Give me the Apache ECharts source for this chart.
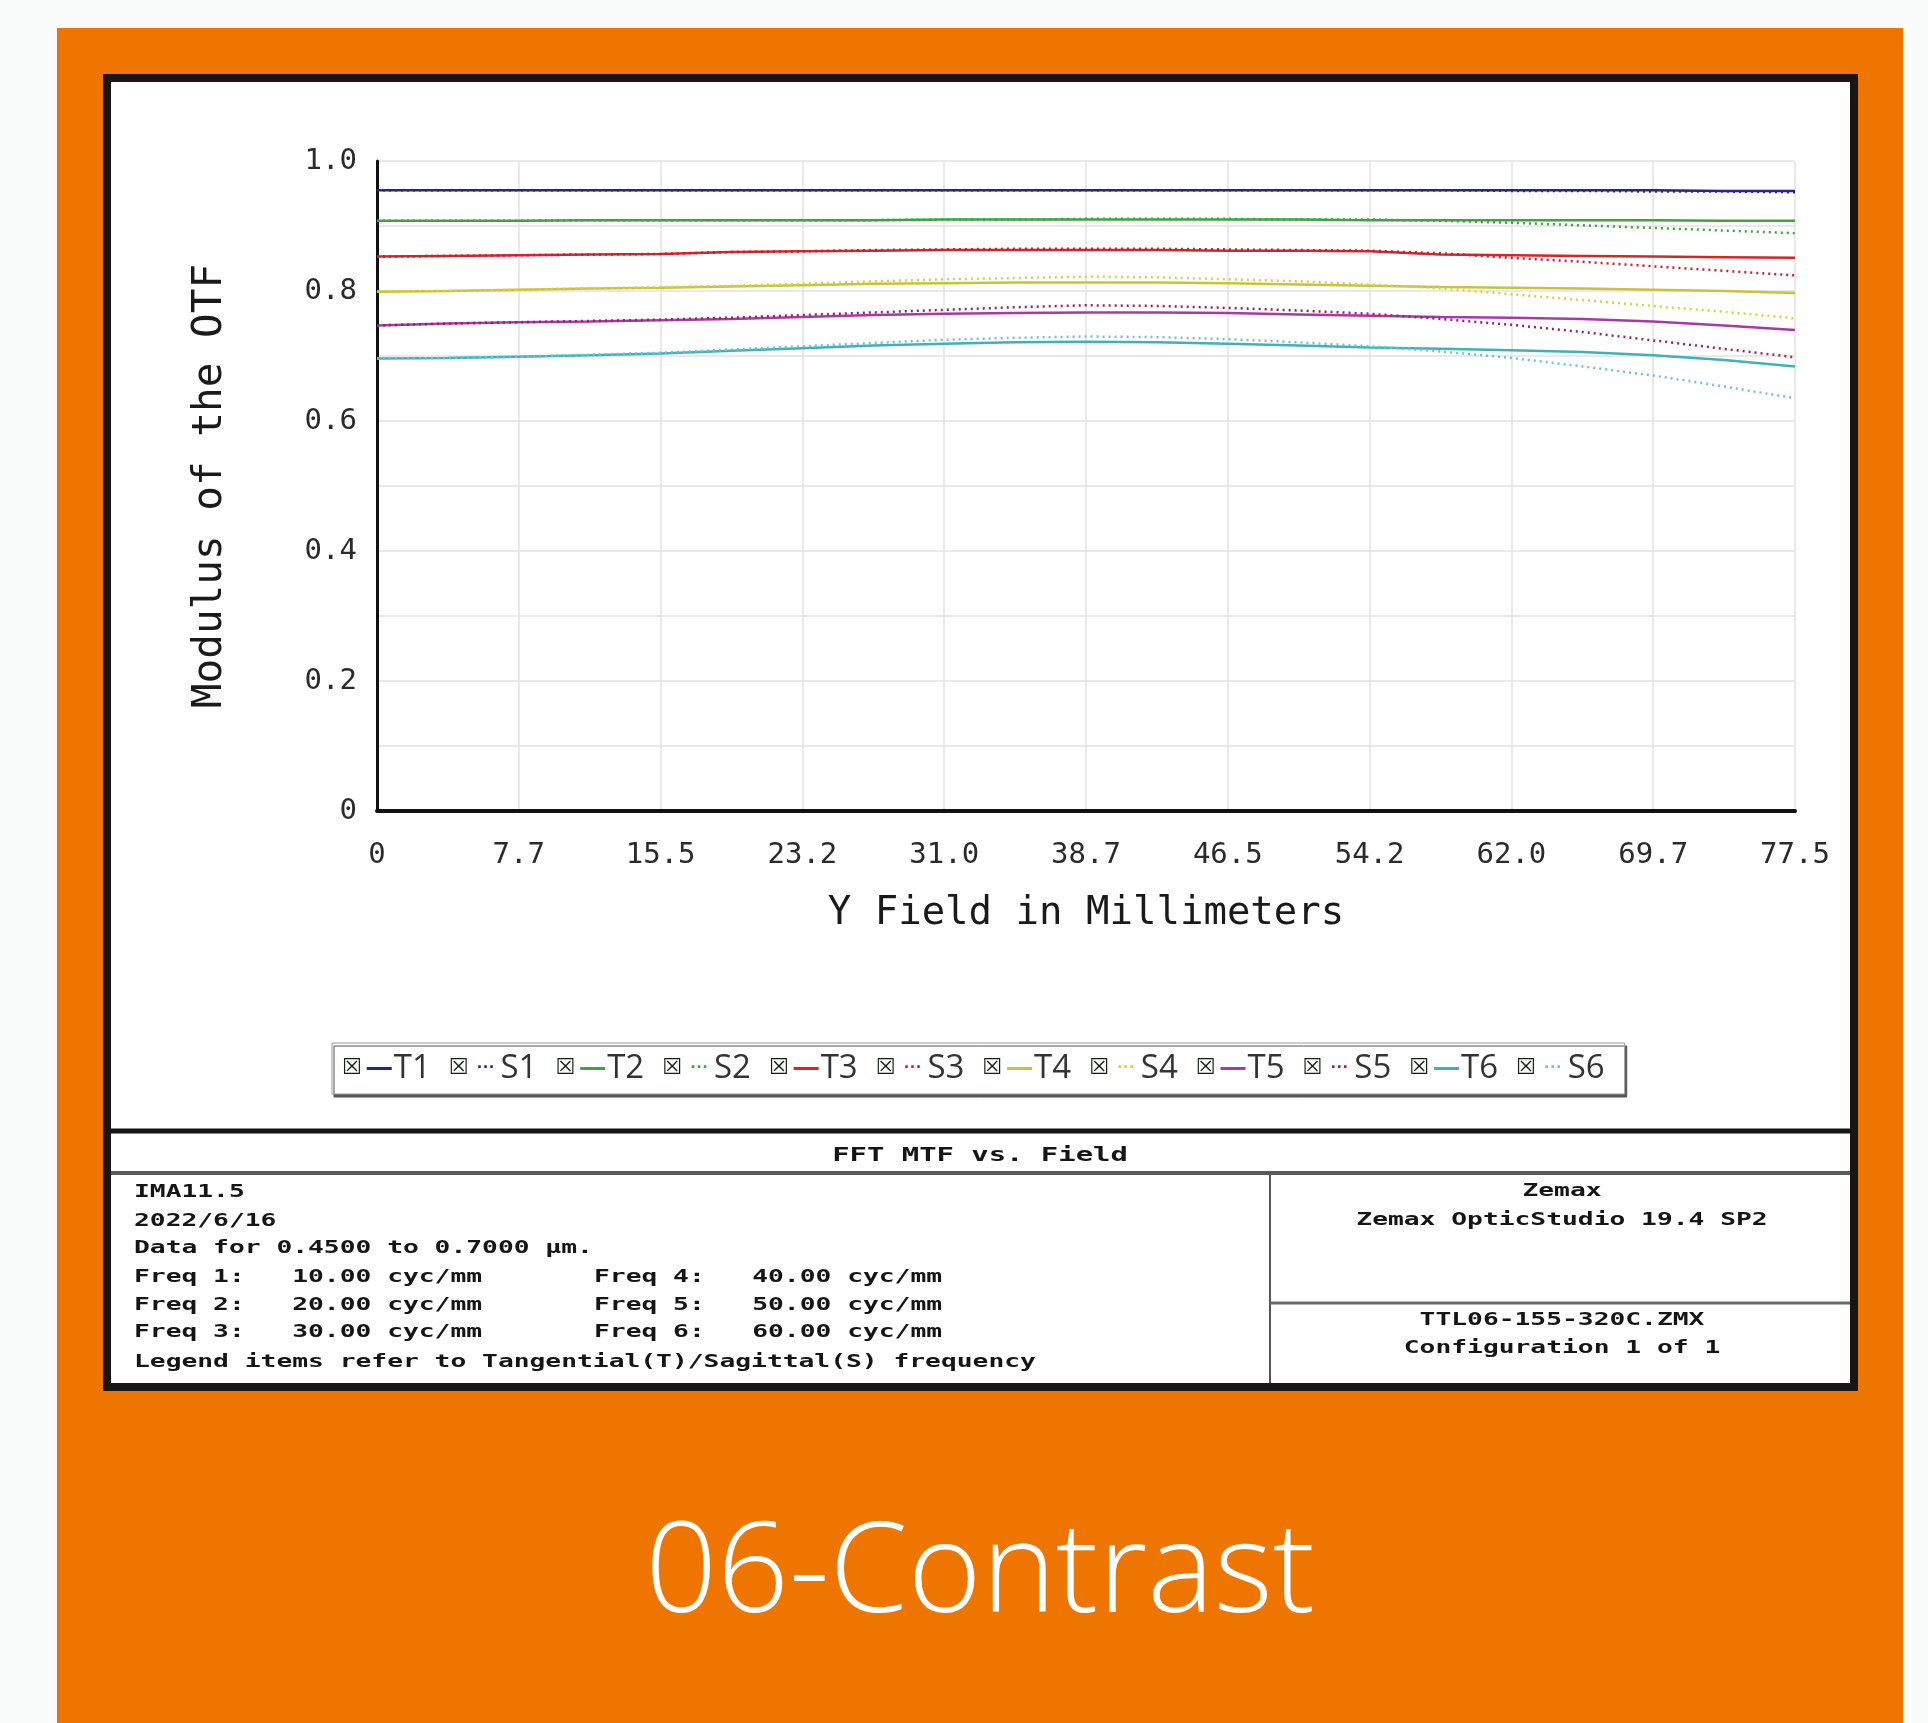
<!DOCTYPE html>
<html>
<head>
<meta charset="utf-8">
<script src="https://cdn.jsdelivr.net/npm/echarts@6/dist/echarts.min.js"></script>
<style>
html,body{margin:0;padding:0;background:#fafcfc;}
#chart{width:1928px;height:1723px;}
</style>
</head>
<body>
<div id="chart"></div>
<script>
// ---- data ----
const fieldMM = [0, 3.875, 7.75, 11.625, 15.5, 19.375, 23.25, 27.125, 31, 34.875, 38.75, 42.625, 46.5, 50.375, 54.25, 58.125, 62, 65.875, 69.75, 73.625, 77.5];
const xTickLabels = ['0', '7.7', '15.5', '23.2', '31.0', '38.7', '46.5', '54.2', '62.0', '69.7', '77.5'];
const yTickLabels = ['0', '0.2', '0.4', '0.6', '0.8', '1.0'];
const seriesNames = ['T1', 'S1', 'T2', 'S2', 'T3', 'S3', 'T4', 'S4', 'T5', 'S5', 'T6', 'S6'];

const T1 = [0.955,0.955,0.955,0.955,0.955,0.955,0.955,0.955,0.955,0.955,0.955,0.955,0.955,0.955,0.955,0.955,0.955,0.955,0.955,0.954,0.954];
const S1 = [0.955,0.955,0.955,0.955,0.955,0.955,0.955,0.955,0.955,0.955,0.955,0.955,0.955,0.955,0.955,0.955,0.954,0.954,0.953,0.953,0.952];
const T2 = [0.908,0.908,0.908,0.909,0.909,0.909,0.909,0.909,0.910,0.910,0.910,0.910,0.910,0.910,0.909,0.909,0.909,0.909,0.909,0.908,0.908];
const S2 = [0.908,0.908,0.908,0.909,0.909,0.909,0.909,0.909,0.910,0.910,0.911,0.911,0.911,0.910,0.910,0.908,0.905,0.901,0.897,0.893,0.889];
const T3 = [0.853,0.854,0.855,0.856,0.857,0.860,0.861,0.862,0.863,0.863,0.863,0.863,0.862,0.862,0.861,0.856,0.855,0.854,0.853,0.852,0.851];
const S3 = [0.853,0.854,0.855,0.856,0.857,0.860,0.861,0.863,0.864,0.865,0.865,0.865,0.864,0.863,0.862,0.858,0.851,0.845,0.838,0.831,0.824];
const T4 = [0.799,0.800,0.802,0.804,0.805,0.807,0.809,0.811,0.812,0.813,0.813,0.813,0.812,0.810,0.808,0.806,0.805,0.804,0.802,0.800,0.797];
const S4 = [0.799,0.800,0.802,0.804,0.806,0.808,0.811,0.815,0.818,0.820,0.822,0.821,0.818,0.815,0.810,0.804,0.795,0.786,0.777,0.768,0.758];
const T5 = [0.747,0.750,0.752,0.753,0.755,0.757,0.760,0.763,0.765,0.766,0.767,0.767,0.766,0.764,0.762,0.760,0.759,0.757,0.753,0.747,0.740];
const S5 = [0.747,0.750,0.752,0.754,0.756,0.759,0.763,0.767,0.771,0.775,0.778,0.777,0.774,0.770,0.765,0.757,0.748,0.737,0.724,0.711,0.698];
const T6 = [0.696,0.697,0.699,0.701,0.704,0.708,0.712,0.716,0.719,0.721,0.722,0.721,0.719,0.716,0.713,0.711,0.709,0.706,0.701,0.694,0.684];
const S6 = [0.696,0.697,0.699,0.702,0.705,0.710,0.715,0.720,0.725,0.728,0.730,0.729,0.726,0.721,0.715,0.707,0.697,0.684,0.670,0.653,0.635];

const seriesValues = [T1, S1, T2, S2, T3, S3, T4, S4, T5, S5, T6, S6];
const seriesColors = ['#26268a', '#26268a', '#3fa33f', '#3fa33f', '#d32626', '#c01e3a', '#c9c23a', '#d8d040', '#a83aa8', '#9a2060', '#3fb2b8', '#6cc4d0'];

const infoLeft = [
  'IMA11.5',
  '2022/6/16',
  'Data for 0.4500 to 0.7000 \u00b5m.',
  'Freq 1:   10.00 cyc/mm',
  'Freq 2:   20.00 cyc/mm',
  'Freq 3:   30.00 cyc/mm',
  'Legend items refer to Tangential(T)/Sagittal(S) frequency'
];
const infoMid = ['Freq 4:   40.00 cyc/mm', 'Freq 5:   50.00 cyc/mm', 'Freq 6:   60.00 cyc/mm'];
const infoRight = ['Zemax', 'Zemax OpticStudio 19.4 SP2', 'TTL06-155-320C.ZMX', 'Configuration 1 of 1'];

// ---- chart ----
const chart = echarts.init(document.getElementById('chart'), null, {renderer: 'canvas'});
const MONO = '"DejaVu Sans Mono", "Liberation Mono", monospace';

const rich = {
  cb: {fontFamily: 'DejaVu Sans', fontSize: 22, fontWeight: 'bold', color: '#0f220f', padding: [0, 5, 0, 0]},
  tx: {fontFamily: '"Open Sans", "Noto Sans", sans-serif', fontSize: 33, color: '#333', lineHeight: 40, padding: [0, 0, 0, 2]}
};
seriesNames.forEach((n, i) => {
  if (n[0] === 'T') {
    rich['k' + i] = {width: 25, height: 3, backgroundColor: seriesColors[i]};
  } else {
    rich['k' + i] = {width: 25, fontSize: 18, fontWeight: 'bold', color: seriesColors[i], align: 'center'};
  }
});

const series = seriesNames.map((n, i) => ({
  name: n,
  type: 'line',
  symbol: 'none',
  showSymbol: false,
  silent: true,
  z: n[0] === 'T' ? 3 : 4,
  lineStyle: {
    color: seriesColors[i],
    width: 2.5,
    type: n[0] === 'T' ? 'solid' : [2, 4]
  },
  itemStyle: {color: seriesColors[i]},
  data: fieldMM.map((x, j) => [x, seriesValues[i][j]])
}));

const graphics = [
  {type: 'rect', z: -30, shape: {x: 57, y: 28, width: 1846, height: 1700}, style: {fill: '#ee7600'}},
  {type: 'rect', z: -20, shape: {x: 107, y: 78, width: 1747, height: 1309}, style: {fill: '#ffffff', stroke: '#1a1414', lineWidth: 8}},
  {type: 'line', z: -10, shape: {x1: 111, y1: 1131, x2: 1850, y2: 1131}, style: {stroke: '#151515', lineWidth: 5}},
  {type: 'line', z: -10, shape: {x1: 111, y1: 1173, x2: 1850, y2: 1173}, style: {stroke: '#5a5a5a', lineWidth: 4}},
  {type: 'line', z: -10, shape: {x1: 1270, y1: 1175, x2: 1270, y2: 1383}, style: {stroke: '#555', lineWidth: 2}},
  {type: 'line', z: -10, shape: {x1: 1270, y1: 1303, x2: 1850, y2: 1303}, style: {stroke: '#6a6a6a', lineWidth: 3}},
  {type: 'text', x: 980, y: 1156, scaleX: 1.52, style: {text: 'FFT MTF vs. Field', font: 'bold 19px ' + MONO, fill: '#151515', align: 'center', verticalAlign: 'middle'}},
  {type: 'text', x: 980, y: 1576, style: {text: '06-Contrast', font: '300 126px "Open Sans", "Noto Sans", sans-serif', fill: '#ffffff', align: 'center', verticalAlign: 'middle'}}
];
const leftYs = [1192, 1221, 1248, 1277, 1305, 1332, 1362];
infoLeft.forEach((t, i) => graphics.push({type: 'text', x: 134, y: leftYs[i], scaleX: 1.46,
  style: {text: t, font: 'bold 18px ' + MONO, fill: '#151515', align: 'left', verticalAlign: 'middle'}}));
infoMid.forEach((t, i) => graphics.push({type: 'text', x: 594, y: leftYs[i + 3], scaleX: 1.46,
  style: {text: t, font: 'bold 18px ' + MONO, fill: '#151515', align: 'left', verticalAlign: 'middle'}}));
const rightYs = [1191, 1220, 1320, 1348];
infoRight.forEach((t, i) => graphics.push({type: 'text', x: 1562, y: rightYs[i], scaleX: 1.46,
  style: {text: t, font: 'bold 18px ' + MONO, fill: '#151515', align: 'center', verticalAlign: 'middle'}}));

chart.setOption({
  animation: false,
  backgroundColor: '#fafcfc',
  grid: {left: 377, top: 161, right: 133, bottom: 912, containLabel: false},
  graphic: graphics,
  legend: {
    left: 332, top: 1043,
    orient: 'horizontal',
    padding: [9, 20, 9, 4],
    itemGap: 12, itemWidth: 1, itemHeight: 1, icon: 'none',
    backgroundColor: '#ffffff', borderColor: '#9a9a9a', borderWidth: 1,
    shadowColor: '#555', shadowOffsetX: 2, shadowOffsetY: 3, shadowBlur: 0,
    selectedMode: false,
    data: seriesNames,
    formatter: name => {
      const i = seriesNames.indexOf(name);
      const mark = name[0] === 'T' ? ' ' : '\u00b7\u00b7\u00b7';
      return '{cb|\u2612}{k' + i + '|' + mark + '}{tx|' + name + '}';
    },
    textStyle: {rich: rich}
  },
  xAxis: {
    type: 'value', min: 0, max: 77.5, interval: 7.75,
    name: 'Y Field in Millimeters', nameLocation: 'middle', nameGap: 83,
    nameTextStyle: {fontFamily: MONO, fontSize: 39, color: '#1a1a1a'},
    axisLine: {show: true, onZero: false, lineStyle: {color: '#111', width: 4}},
    axisTick: {show: false},
    axisLabel: {margin: 30, fontFamily: MONO, fontSize: 29, color: '#2a2a2a',
      formatter: v => xTickLabels[Math.round(v / 7.75)]},
    splitLine: {show: true, lineStyle: {color: '#e2e2e2', width: 1.5}}
  },
  yAxis: {
    type: 'value', min: 0, max: 1, interval: 0.2,
    name: 'Modulus of the OTF', nameLocation: 'middle', nameGap: 146, nameRotate: 90,
    nameTextStyle: {fontFamily: MONO, fontSize: 41, color: '#1a1a1a'},
    axisLine: {show: true, lineStyle: {color: '#111', width: 3}},
    axisTick: {show: false},
    minorTick: {show: false, splitNumber: 2},
    minorSplitLine: {show: true, lineStyle: {color: '#e2e2e2', width: 1.5}},
    axisLabel: {margin: 20, fontFamily: MONO, fontSize: 29, color: '#2a2a2a',
      formatter: v => yTickLabels[Math.round(v / 0.2)]},
    splitLine: {show: true, lineStyle: {color: '#e2e2e2', width: 1.5}}
  },
  series: series
});
</script>
</body>
</html>
